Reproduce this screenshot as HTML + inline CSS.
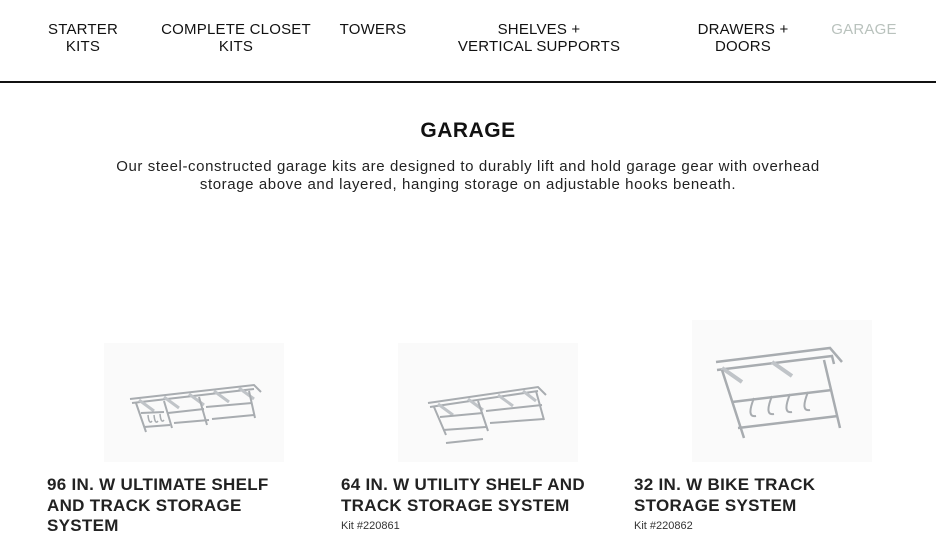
<!DOCTYPE html>
<html><head><style>
body{margin:0;width:936px;height:533px;background:#fff;font-family:"Liberation Sans",sans-serif;color:#111;position:relative;overflow:hidden}
.n{position:absolute;top:21px;font-size:15px;line-height:17px;text-align:center;letter-spacing:0.2px;color:#111}
.line{position:absolute;left:0;top:81px;width:936px;height:2px;background:#111}
h1{position:absolute;top:119px;left:0;width:936px;text-align:center;font-size:21px;margin:0;font-weight:bold;letter-spacing:0.5px}
.d{position:absolute;top:158px;left:0;width:936px;text-align:center;font-size:15px;line-height:18px;color:#222;letter-spacing:0.6px}
.img{position:absolute;background:#fafafa}
.t{position:absolute;top:475px;font-size:17px;line-height:20.5px;font-weight:bold;color:#222;letter-spacing:0.3px}
.k{position:absolute;top:520px;font-size:11px;color:#333}
</style></head><body>
<div class="n" style="left:48px;width:70px">STARTER<br>KITS</div>
<div class="n" style="left:160px;width:152px">COMPLETE CLOSET<br>KITS</div>
<div class="n" style="left:338px;width:70px">TOWERS</div>
<div class="n" style="left:455px;width:168px">SHELVES +<br>VERTICAL SUPPORTS</div>
<div class="n" style="left:692px;width:102px">DRAWERS +<br>DOORS</div>
<div class="n" style="left:828px;width:72px;color:#b9c2bd">GARAGE</div>
<div class="line"></div>
<h1>GARAGE</h1>
<div class="d">Our steel-constructed garage kits are designed to durably lift and hold garage gear with overhead<br>storage above and layered, hanging storage on adjustable hooks beneath.</div>

<div class="img" style="left:104px;top:343px;width:180px;height:119px">
<svg width="180" height="119" stroke="#a8acb0" fill="none" stroke-width="2">
<path d="M26 56 L150 42 L157 49 M28 60 L150 46"/>
<path d="M35 57 L50 68 M60 54 L75 65 M85 51 L100 62 M110 48 L125 59 M135 45 L150 56" stroke-width="3" stroke="#c0c4c8"/>
<path d="M32 60 L42 89 M60 58 L68 85 M95 54 L103 82 M145 48 L151 75"/>
<path d="M37 70 L60 69 M64 70 L100 66 M102 64 L148 60 M40 84 L66 82 M70 80 L105 77 M108 76 L150 72"/>
<path d="M44 72 q1 10 4 6 M50 72 q1 10 4 6 M56 71 q1 10 4 6" stroke-width="1.5"/>
</svg></div>
<div class="img" style="left:398px;top:343px;width:180px;height:119px">
<svg width="180" height="119" stroke="#a8acb0" fill="none" stroke-width="2">
<path d="M30 60 L140 44 L148 52 M32 64 L140 48"/>
<path d="M40 61 L55 72 M70 56 L85 67 M100 52 L115 63 M125 48 L138 58" stroke-width="3" stroke="#c0c4c8"/>
<path d="M36 64 L48 92 M80 58 L90 88 M138 48 L146 77"/>
<path d="M42 74 L85 70 M88 68 L144 62 M45 87 L88 84 M92 80 L146 76 M48 100 L85 96"/>
</svg></div>
<div class="img" style="left:692px;top:320px;width:180px;height:142px">
<svg width="180" height="142" stroke="#a8acb0" fill="none" stroke-width="2.5">
<path d="M24 42 L138 28 L150 42 M25 50 L140 36 L142 44"/>
<path d="M30 48 L50 62 M80 42 L100 56" stroke-width="4" stroke="#c0c4c8"/>
<path d="M30 50 L52 118 M132 40 L148 108"/>
<path d="M40 82 L140 70 M46 108 L146 96"/>
<path d="M62 78 q-8 20 2 18 M80 76 q-8 20 2 18 M98 74 q-8 20 2 18 M116 72 q-8 20 2 18" stroke-width="2"/>
</svg></div>

<div class="t" style="left:47px">96 IN. W ULTIMATE SHELF<br>AND TRACK STORAGE<br>SYSTEM</div>
<div class="t" style="left:341px">64 IN. W UTILITY SHELF AND<br>TRACK STORAGE SYSTEM</div>
<div class="k" style="left:341px">Kit #220861</div>
<div class="t" style="left:634px">32 IN. W BIKE TRACK<br>STORAGE SYSTEM</div>
<div class="k" style="left:634px">Kit #220862</div>
</body></html>
